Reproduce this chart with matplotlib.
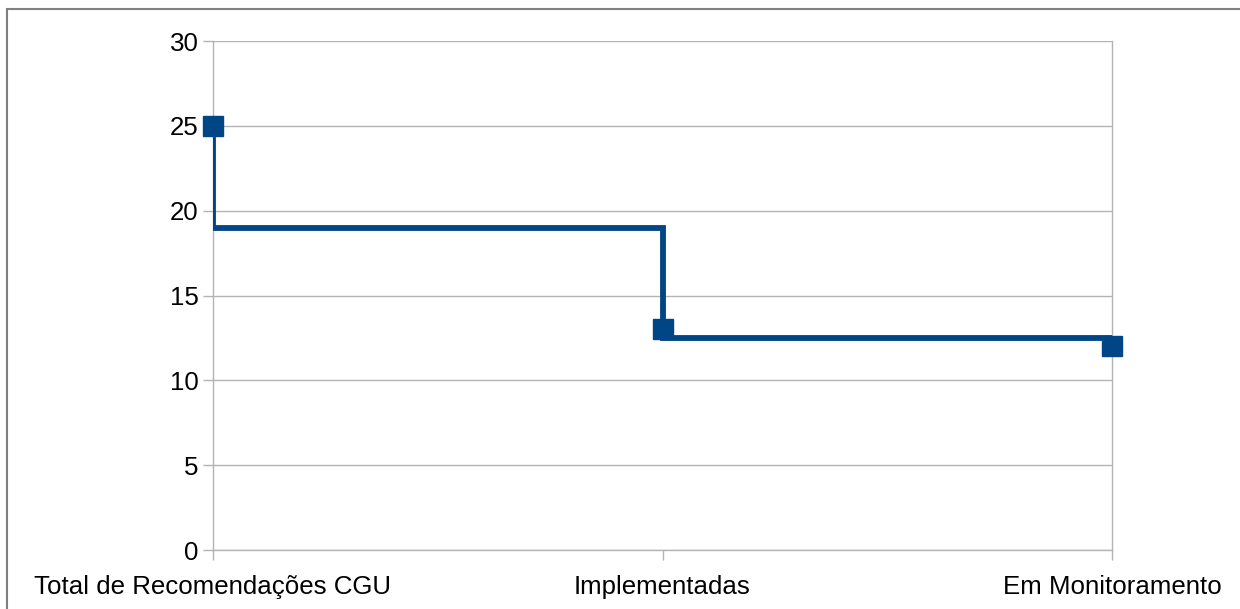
import numpy as np
import matplotlib.pyplot as plt
from matplotlib.patches import Rectangle

plt.rcParams['font.family'] = ['Liberation Sans', 'DejaVu Sans']

categories = ['Total de Recomendações CGU', 'Implementadas', 'Em Monitoramento']
values = [25, 13, 12]
yticks = [0, 5, 10, 15, 20, 25, 30]

line_color = '#004586'
grid_color = '#b3b3b3'

fig = plt.figure(figsize=(12.4, 6.09), dpi=100)
ax = fig.add_axes([213 / 1240, 1 - 550 / 609, (1112 - 213) / 1240, (550 - 41) / 609])

# step line, "centre y" style: each jump is split at the midpoint value
x = np.arange(len(values))
sx, sy = [x[0]], [values[0]]
for i in range(len(values) - 1):
    mid = (values[i] + values[i + 1]) / 2
    sx += [x[i], x[i + 1], x[i + 1]]
    sy += [mid, mid, values[i + 1]]
ax.plot(sx, sy, color=line_color, linewidth=4.2, solid_joinstyle='miter', zorder=3)
ax.plot(x, values, linestyle='none', marker='s', markersize=14,
        color=line_color, zorder=4, clip_on=False)

ax.set_xlim(0, 2)
ax.set_ylim(0, 30)
ax.set_yticks(yticks)
ax.set_xticks(x)
ax.set_xticklabels(categories)
ax.yaxis.grid(True, color=grid_color, linewidth=1)
ax.set_axisbelow(True)

ax.spines['top'].set_visible(False)
for side in ['left', 'bottom', 'right']:
    ax.spines[side].set_color(grid_color)
    ax.spines[side].set_linewidth(1)
ax.tick_params(axis='both', length=7.2, width=1, color=grid_color,
               labelsize=18.6, labelcolor='black')
ax.tick_params(axis='y', pad=3)
ax.tick_params(axis='x', pad=11)

# outer frame (right and bottom edges fall outside the image)
fig.patches.append(Rectangle((7 / 1240, -0.1), 1.2, 1 - 9 / 609 + 0.1,
                             transform=fig.transFigure, fill=False,
                             edgecolor='#808080', linewidth=1.5))

fig.savefig('out.png', dpi=100)
